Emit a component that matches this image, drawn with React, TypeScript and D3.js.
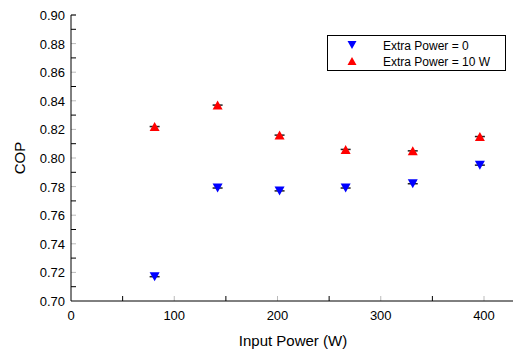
import React from 'react';
import * as d3 from 'd3';

const inputPower = [81, 142, 202, 266, 331, 396];
const copNoExtra = [0.717, 0.779, 0.777, 0.779, 0.782, 0.795];
const copExtra10 = [0.822, 0.837, 0.816, 0.806, 0.805, 0.815];
const seriesNames = ['Extra Power = 0', 'Extra Power = 10 W'];
const xTicks = [0, 100, 200, 300, 400];
const yTicks = [0.7, 0.72, 0.74, 0.76, 0.78, 0.8, 0.82, 0.84, 0.86, 0.88, 0.9];

const W = 513;
const H = 349;
const font = '"Liberation Sans", Arial, sans-serif';

// triangle path centred on (cx, cy), pointing up or down
const tri = (cx: number, cy: number, down: boolean, w = 10, h = 9) => {
  const s = down ? -1 : 1;
  return `M${cx - w / 2},${cy + (s * h) / 2}L${cx + w / 2},${cy + (s * h) / 2}L${cx},${cy - (s * h) / 2}Z`;
};

const App = () => {
  const x = d3.scaleLinear().domain([0, 450]).range([71, 71 + 4.5 * 103.25]);
  const y = d3.scaleLinear().domain([0.7, 0.9]).range([301, 15]);
  const x0 = x(0);
  const y0 = y(0.7);

  const xMinor = d3.range(50, 450, 100);
  const yMinor = d3.range(0, 10).map((i) => 0.71 + i * 0.02);

  const series = [
    { values: copNoExtra, color: '#0000ff', down: true },
    { values: copExtra10, color: '#ff0000', down: false },
  ];

  return (
    <svg width={W} height={H} style={{ position: 'absolute', left: 0, top: 0 }} fontFamily={font}>
      <rect width={W} height={H} fill="#fff" />

      {/* ticks */}
      {xTicks.slice(1).map((t) => (
        <line key={'xm' + t} x1={x(t)} x2={x(t)} y1={y0} y2={y0 - 5} stroke="#bbb" />
      ))}
      {xMinor.map((t) => (
        <line key={'xn' + t} x1={x(t)} x2={x(t)} y1={y0} y2={y0 - 5} stroke="#000" />
      ))}
      {yTicks.slice(1).map((t) => (
        <line key={'ym' + t} x1={x0} x2={x0 + 5} y1={y(t)} y2={y(t)} stroke="#bbb" />
      ))}
      {yMinor.map((t) => (
        <line key={'yn' + t} x1={x0} x2={x0 + 5} y1={y(t)} y2={y(t)} stroke="#000" />
      ))}

      {/* axes */}
      <line x1={x0} x2={W} y1={y0} y2={y0} stroke="#000" />
      <line x1={x0} x2={x0} y1={y(0.9)} y2={y0} stroke="#000" />
      <line x1={x0} x2={x0 + 5} y1={y(0.9)} y2={y(0.9)} stroke="#000" />

      {/* tick labels */}
      {xTicks.map((t) => (
        <text key={'xl' + t} x={x(t)} y={y0 + 19} fontSize={13} textAnchor="middle">
          {t}
        </text>
      ))}
      {yTicks.map((t) => (
        <text key={'yl' + t} x={x0 - 6} y={y(t) + 5} fontSize={13} textAnchor="end">
          {d3.format('.2f')(t)}
        </text>
      ))}

      <text x={293} y={346} fontSize={15} textAnchor="middle">
        Input Power (W)
      </text>
      <text transform={`translate(25,${y(0.8)}) rotate(-90)`} fontSize={15} textAnchor="middle">
        COP
      </text>

      {/* markers */}
      {series.map((s, si) =>
        s.values.map((v, i) => {
          const cx = x(inputPower[i]);
          const cy = y(v);
          return (
            <g key={si + '-' + i}>
              <line x1={cx - 5} x2={cx + 5} y1={cy} y2={cy} stroke="#222" strokeWidth={1.5} />
              <path d={tri(cx, cy, s.down)} fill={s.color} />
            </g>
          );
        })
      )}

      {/* legend */}
      <rect x={327.5} y={35.5} width={178} height={35} fill="#fff" stroke="#000" />
      {series.map((s, si) => (
        <g key={'lg' + si}>
          <path d={tri(352, 45 + si * 16, s.down, 9, 8)} fill={s.color} />
          <text x={383} y={49.5 + si * 16} fontSize={12}>
            {seriesNames[si]}
          </text>
        </g>
      ))}
    </svg>
  );
};

export default App;
